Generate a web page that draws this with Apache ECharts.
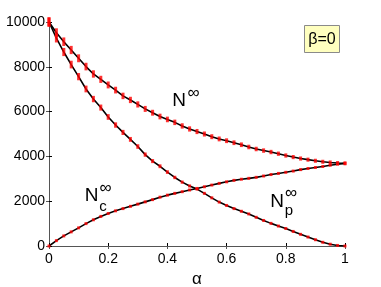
<!DOCTYPE html>
<html>
<head>
<meta charset="utf-8">
<script src="https://cdn.jsdelivr.net/npm/echarts@6/dist/echarts.min.js"></script>
<style>
html,body{margin:0;padding:0;background:#fff;}
#chart{width:381px;height:287px;}
</style>
</head>
<body>
<div id="chart"></div>
<script>
// ---- data ----
var alpha = [0, 0.025, 0.05, 0.075, 0.1, 0.125, 0.15, 0.175, 0.2, 0.225, 0.25, 0.275, 0.3, 0.325, 0.35, 0.375, 0.4, 0.425, 0.45, 0.475, 0.5,
             0.525, 0.55, 0.575, 0.6, 0.625, 0.65, 0.675, 0.7, 0.725, 0.75, 0.775, 0.8, 0.825, 0.85, 0.875, 0.9, 0.925, 0.95, 0.975, 1];
var nInf = [10000, 9520, 9120, 8750, 8380, 8010, 7680, 7440, 7190, 6960, 6700, 6520, 6320, 6120, 5950, 5780, 5650, 5520, 5360, 5225, 5110,
            5000, 4880, 4780, 4700, 4610, 4520, 4420, 4330, 4260, 4195, 4120, 4040, 3970, 3905, 3855, 3805, 3760, 3730, 3705, 3690];
var nP   = [10000, 9280, 8660, 8100, 7560, 7010, 6560, 6180, 5760, 5400, 5070, 4760, 4440, 4080, 3790, 3560, 3300, 3060, 2850, 2680, 2540,
            2350, 2150, 1960, 1810, 1670, 1550, 1430, 1280, 1140, 1010, 890, 780, 650, 520, 400, 280, 165, 80, 25, 0];
var nC   = [0, 240, 450, 630, 810, 1000, 1170, 1320, 1450, 1570, 1670, 1770, 1870, 1970, 2070, 2180, 2270, 2350, 2425, 2500, 2570,
            2645, 2720, 2795, 2865, 2930, 2980, 3020, 3065, 3125, 3190, 3240, 3290, 3345, 3410, 3460, 3505, 3550, 3605, 3650, 3690];
var xTicks = [0, 0.2, 0.4, 0.6, 0.8, 1];
var yTicks = [0, 2000, 4000, 6000, 8000, 10000];

function pairs(ys) { return alpha.map(function (a, i) { return [a, ys[i]]; }); }

var FONT = 'Liberation Sans';
var chart = echarts.init(document.getElementById('chart'), null, {renderer: 'canvas'});

function lineSeries(ys) {
  return {type: 'line', data: pairs(ys), showSymbol: false, symbol: 'none', z: 3,
          lineStyle: {color: '#000', width: 1.6}, animation: false};
}
function barSeries(ys, big) {
  return {type: 'scatter', data: pairs(ys), symbol: 'rect', z: 5, animation: false,
          symbolSize: function (v) {
            var h = big ? Math.max(3, 0.00085 * v[1] + 0.8) : 3;
            return [3, h];
          },
          itemStyle: {color: '#ff0000'}};
}

var axisLabel = {color: '#000', fontFamily: FONT, fontSize: 14};
var option = {
  animation: false,
  backgroundColor: '#fff',
  grid: {left: 49, right: 36, top: 22, bottom: 41, containLabel: false, outerBoundsMode: 'none'},
  xAxis: [{
    type: 'value', min: 0, max: 1, interval: 0.2, position: 'bottom',
    name: 'α', nameLocation: 'middle', nameGap: 21,
    nameTextStyle: {color: '#000', fontFamily: FONT, fontSize: 17},
    axisLine: {show: true, lineStyle: {color: '#000', width: 1}},
    axisTick: {show: true, inside: true, length: 3, lineStyle: {color: '#000'}},
    axisLabel: Object.assign({margin: 6, formatter: function (v) { return xTicks.indexOf(v) >= 0 ? String(v) : ''; }}, axisLabel),
    splitLine: {show: false}
  }, {
    type: 'value', min: 0, max: 1, interval: 0.2, position: 'top',
    axisLine: {show: true, lineStyle: {color: '#555', width: 1}},
    axisTick: {show: true, inside: true, length: 3, lineStyle: {color: '#555'}},
    axisLabel: {show: false}, splitLine: {show: false}
  }],
  yAxis: [{
    type: 'value', min: 0, max: 10000, interval: 2000, position: 'left',
    axisLine: {show: true, lineStyle: {color: '#000', width: 1}},
    axisTick: {show: true, inside: true, length: 3, lineStyle: {color: '#000'}},
    axisLabel: Object.assign({margin: 4, formatter: function (v) { return yTicks.indexOf(v) >= 0 ? String(v) : ''; }}, axisLabel),
    splitLine: {show: false}
  }, {
    type: 'value', min: 0, max: 10000, interval: 2000, position: 'right',
    axisLine: {show: true, lineStyle: {color: '#555', width: 1}},
    axisTick: {show: true, inside: true, length: 3, lineStyle: {color: '#555'}},
    axisLabel: {show: false}, splitLine: {show: false}
  }],
  series: [
    barSeries(nInf, true), barSeries(nP, true), barSeries(nC, false),
    lineSeries(nInf), lineSeries(nP), lineSeries(nC)
  ],
  graphic: [
    // N^inf
    {type: 'text', x: 179, y: 100.5, z: 10, style: {text: 'N', font: '19px "Liberation Sans"', fill: '#000', textAlign: 'center', textVerticalAlign: 'middle'}},
    {type: 'text', x: 193.5, y: 93, z: 10, style: {text: '∞', font: '17px "Liberation Sans"', fill: '#000', textAlign: 'center', textVerticalAlign: 'middle'}},
    // N_c^inf
    {type: 'text', x: 91.5, y: 195.5, z: 10, style: {text: 'N', font: '19px "Liberation Sans"', fill: '#000', textAlign: 'center', textVerticalAlign: 'middle'}},
    {type: 'text', x: 105.5, y: 188, z: 10, style: {text: '∞', font: '17px "Liberation Sans"', fill: '#000', textAlign: 'center', textVerticalAlign: 'middle'}},
    {type: 'text', x: 103, y: 207, z: 10, style: {text: 'c', font: '15px "Liberation Sans"', fill: '#000', textAlign: 'center', textVerticalAlign: 'middle'}},
    // N_p^inf
    {type: 'text', x: 277, y: 202, z: 10, style: {text: 'N', font: '19px "Liberation Sans"', fill: '#000', textAlign: 'center', textVerticalAlign: 'middle'}},
    {type: 'text', x: 291, y: 193.5, z: 10, style: {text: '∞', font: '17px "Liberation Sans"', fill: '#000', textAlign: 'center', textVerticalAlign: 'middle'}},
    {type: 'text', x: 289, y: 211, z: 10, style: {text: 'p', font: '15px "Liberation Sans"', fill: '#000', textAlign: 'center', textVerticalAlign: 'middle'}},
    // beta box
    {type: 'rect', z: 10, shape: {x: 304.5, y: 25.5, width: 35, height: 27}, style: {fill: '#ffffbf', stroke: '#8a8a8a', lineWidth: 1}},
    {type: 'text', x: 322, y: 39.5, z: 11, style: {text: 'β=0', font: '16px "Liberation Sans"', fill: '#000', textAlign: 'center', textVerticalAlign: 'middle'}}
  ]
};
chart.setOption(option);
</script>
</body>
</html>
